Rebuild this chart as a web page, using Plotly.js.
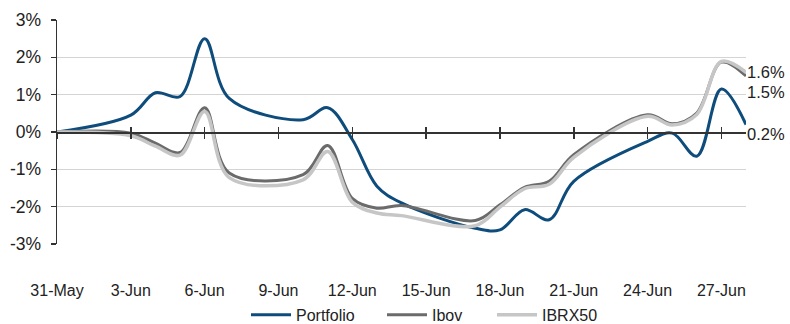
<!DOCTYPE html>
<html>
<head>
<meta charset="utf-8">
<script src="https://cdn.plot.ly/plotly-3.0.1.min.js"></script>
<style>
  html, body { margin: 0; padding: 0; background: #fff; }
  #chart { width: 790px; height: 324px; }
</style>
</head>
<body>
<div id="chart"></div>
<script>
// Trading days (cumulative return, %)
const dates = ['2013-05-31','2013-06-03','2013-06-04','2013-06-05','2013-06-06','2013-06-07',
  '2013-06-10','2013-06-11','2013-06-12','2013-06-13','2013-06-14',
  '2013-06-17','2013-06-18','2013-06-19','2013-06-20','2013-06-21',
  '2013-06-24','2013-06-25','2013-06-26','2013-06-27','2013-06-28'];
const portfolio = [0, 0.45, 1.05, 0.95, 2.5, 0.9, 0.33, 0.65, -0.2, -1.45, -1.9,
  -2.58, -2.62, -2.08, -2.35, -1.32, -0.25, -0.03, -0.65, 1.15, 0.2];
const ibov = [0, -0.03, -0.3, -0.55, 0.65, -1.1, -1.14, -0.36, -1.78, -2.04, -1.97,
  -2.37, -1.95, -1.48, -1.32, -0.61, 0.46, 0.22, 0.51, 1.87, 1.5];
const ibrx50 = [0, -0.1, -0.38, -0.62, 0.55, -1.22, -1.28, -0.52, -1.88, -2.17, -2.24,
  -2.51, -2.01, -1.52, -1.4, -0.68, 0.42, 0.19, 0.47, 1.89, 1.6];

const seriesNames = ['Portfolio', 'Ibov', 'IBRX50'];
const seriesColors = ['#0e4c7c', '#6b6b6b', '#c6c6c6'];

const xTickVals = ['2013-05-31','2013-06-03','2013-06-06','2013-06-09','2013-06-12',
  '2013-06-15','2013-06-18','2013-06-21','2013-06-24','2013-06-27'];
const xTickLabels = ['31-May','3-Jun','6-Jun','9-Jun','12-Jun','15-Jun','18-Jun','21-Jun','24-Jun','27-Jun'];
const yTickVals = [-3, -2, -1, 0, 1, 2, 3];
const yTickLabels = ['-3%', '-2%', '-1%', '0%', '1%', '2%', '3%'];
const xRange = ['2013-05-31', '2013-06-28'];

const regular = 'Liberation Sans, Arial, sans-serif';

const values = [portfolio, ibov, ibrx50];
const widths = [3, 3, 3.5];
const legendIds = ['legend', 'legend2', 'legend3'];

const traces = values.map((v, i) => ({
  type: 'scatter', mode: 'lines', x: dates, y: v, name: seriesNames[i],
  line: { color: seriesColors[i], width: widths[i], shape: 'spline', smoothing: 1 },
  legend: legendIds[i], hoverinfo: 'skip'
}));

// end-of-period value labels, nudged apart so they stack
const labelShift = [-9, -16, 0];
const annotations = values.map((v, i) => ({
  xref: 'x', yref: 'y', x: dates[dates.length - 1], y: v[v.length - 1],
  text: v[v.length - 1].toFixed(1) + '%', showarrow: false,
  xanchor: 'left', yanchor: 'middle', xshift: 0, yshift: labelShift[i],
  borderpad: 0,
  font: { family: regular, size: 16.5, color: '#222' }
}));

const legendBase = {
  orientation: 'h', xref: 'container', yref: 'container', yanchor: 'middle',
  y: 0.028, bgcolor: 'rgba(0,0,0,0)', itemwidth: 40,
  font: { family: regular, size: 16, color: '#222' }
};

const zeroAxis = {
  type: 'date', range: xRange, overlaying: 'x', anchor: 'free', position: 0.5,
  tickvals: xTickVals, showticklabels: false, showgrid: false, zeroline: false,
  ticklen: 5, tickwidth: 1.5, tickcolor: '#333'
};

const layout = {
  width: 790, height: 324,
  margin: { l: 56.5, r: 43.5, t: 20, b: 80 },
  paper_bgcolor: '#fff', plot_bgcolor: '#fff',
  showlegend: true,
  xaxis: {
    type: 'date', range: xRange, tickvals: xTickVals, ticktext: xTickLabels,
    showgrid: false, zeroline: false, showline: false, ticks: '',
    ticklabelstandoff: 35,
    tickfont: { family: regular, size: 16, color: '#222' }
  },
  xaxis2: Object.assign({}, zeroAxis, { showline: true, linecolor: '#333', linewidth: 1.5, ticks: 'outside' }),
  xaxis3: Object.assign({}, zeroAxis, { showline: false, ticks: 'inside' }),
  yaxis: {
    range: [-3, 3], tickvals: yTickVals, ticktext: yTickLabels,
    showgrid: true, gridcolor: '#d4d4d4', gridwidth: 1, zeroline: false,
    showline: true, linecolor: '#333', linewidth: 1.5,
    ticks: 'outside', ticklen: 5, tickwidth: 1.5, tickcolor: '#333',
    ticklabelstandoff: 6,
    tickfont: { family: regular, size: 17.5, color: '#222' }
  },
  legend: Object.assign({}, legendBase, { x: 246 / 790 }),
  legend2: Object.assign({}, legendBase, { x: 382 / 790 }),
  legend3: Object.assign({}, legendBase, { x: 492 / 790 }),
  annotations: annotations
};

// empty traces so the zero-line axes get drawn
traces.push({ type: 'scatter', x: [], y: [], xaxis: 'x2', showlegend: false, hoverinfo: 'skip' });
traces.push({ type: 'scatter', x: [], y: [], xaxis: 'x3', showlegend: false, hoverinfo: 'skip' });

Plotly.newPlot('chart', traces, layout, { staticPlot: true, displayModeBar: false });
</script>
</body>
</html>
